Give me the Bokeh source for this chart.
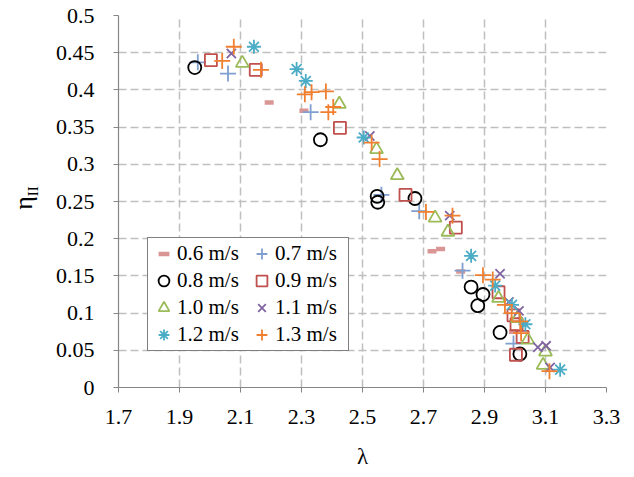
from bokeh.plotting import figure
from bokeh.models import Legend, LegendItem, FixedTicker, Range1d, CustomJSTickFormatter, Div
from bokeh.layouts import row
from bokeh.embed import file_html
from bokeh.resources import INLINE

# ---- data ----
series_names = ["0.6 m/s", "0.7 m/s", "0.8 m/s", "0.9 m/s", "1.0 m/s", "1.1 m/s", "1.2 m/s", "1.3 m/s"]

x06 = [2.194, 2.308, 2.728, 2.756, 2.822, 2.995]
y06 = [0.383, 0.372, 0.183, 0.186, 0.156, 0.075]

x07 = [1.960, 2.059, 2.330, 2.562, 2.686, 2.828, 2.995]
y07 = [0.437, 0.422, 0.370, 0.259, 0.237, 0.157, 0.059]

x08 = [1.950, 2.362, 2.548, 2.550, 2.672, 2.856, 2.895, 2.878, 2.951, 3.016]
y08 = [0.430, 0.333, 0.257, 0.249, 0.254, 0.135, 0.125, 0.110, 0.074, 0.045]

x09 = [2.003, 2.150, 2.426, 2.641, 2.806, 2.946, 2.995, 3.005, 3.025, 3.003]
y09 = [0.440, 0.427, 0.349, 0.259, 0.215, 0.128, 0.097, 0.085, 0.068, 0.044]

x10 = [2.106, 2.424, 2.546, 2.614, 2.738, 2.780, 2.946, 3.008, 3.042, 3.100, 3.092]
y10 = [0.436, 0.381, 0.320, 0.285, 0.228, 0.209, 0.120, 0.093, 0.064, 0.048, 0.030]

x11 = [2.070, 2.524, 2.786, 2.951, 2.980, 3.013, 3.075, 3.102, 3.115]
y11 = [0.449, 0.338, 0.231, 0.153, 0.115, 0.103, 0.054, 0.056, 0.027]

x12 = [2.144, 2.284, 2.314, 2.504, 2.856, 2.935, 2.990, 3.034, 3.148]
y12 = [0.458, 0.428, 0.412, 0.336, 0.177, 0.137, 0.111, 0.085, 0.024]

x13 = [2.040, 2.078, 2.167, 2.311, 2.333, 2.380, 2.388, 2.404, 2.530, 2.556, 2.708,
       2.795, 2.895, 2.927, 2.967, 2.989, 3.017, 3.020, 3.113]
y13 = [0.439, 0.458, 0.427, 0.394, 0.397, 0.398, 0.370, 0.377, 0.329, 0.307, 0.236,
       0.231, 0.151, 0.145, 0.111, 0.100, 0.089, 0.073, 0.022]

x_ticks = [1.7, 1.9, 2.1, 2.3, 2.5, 2.7, 2.9, 3.1, 3.3]
y_ticks = [0, 0.05, 0.1, 0.15, 0.2, 0.25, 0.3, 0.35, 0.4, 0.45, 0.5]

FONT = "Liberation Serif"

p = figure(width=594, height=477, x_range=Range1d(1.7, 3.3), y_range=Range1d(0, 0.5),
           output_backend="svg", toolbar_location=None,
           min_border_left=78, min_border_right=28, min_border_top=15, min_border_bottom=90)
p.outline_line_color = None
p.background_fill_color = "white"
p.border_fill_color = "white"

for ax, ticks in ((p.xaxis, x_ticks), (p.yaxis, y_ticks)):
    ax.ticker = FixedTicker(ticks=ticks)
    ax.formatter = CustomJSTickFormatter(code="var s = tick.toFixed(2); s = s.replace(/0+$/, ''); s = s.replace(/\\.$/, ''); return s;")
    ax.axis_line_color = "#868686"
    ax.axis_line_width = 1.2
    ax.major_tick_line_color = "#868686"
    ax.major_tick_out = 5
    ax.major_tick_in = 0
    ax.minor_tick_line_color = None
    ax.major_label_text_font = FONT
    ax.major_label_text_font_size = "22px"
    ax.major_label_text_color = "black"

p.xaxis.major_label_standoff = 17
p.yaxis.major_label_standoff = 19
p.xaxis.axis_label = "λ"
p.xaxis.axis_label_text_font = FONT
p.xaxis.axis_label_text_font_size = "23px"
p.xaxis.axis_label_text_font_style = "normal"
p.xaxis.axis_label_text_color = "black"
p.xaxis.axis_label_standoff = 17

for g in (p.xgrid, p.ygrid):
    g.grid_line_color = "#BFBFBF"
    g.grid_line_dash = "8 4"
    g.grid_line_width = 1.5

styles = [
    (x06, y06, "dash", "#D99694", 9, 4.5),
    (x07, y07, "cross", "#7F9FD0", 16, 1.8),
    (x08, y08, "circle", "black", 13, 1.8),
    (x09, y09, "square", "#C0504D", 12, 1.8),
    (x10, y10, "triangle", "#9BBB59", 13, 1.8),
    (x11, y11, "x", "#8064A2", 13, 1.8),
    (x12, y12, "asterisk", "#4BACC6", 14, 1.8),
    (x13, y13, "cross", "#F08030", 16, 1.8),
]

items = []
for name, (xs, ys, mk, col, sz, lw) in zip(series_names, styles):
    r = p.scatter(xs, ys, marker=mk, size=sz, line_color=col, fill_color=None, line_width=lw)
    items.append(LegendItem(label=name, renderers=[r]))

legend = Legend(items=items, orientation="horizontal", ncols=2, location=(29, 36))
legend.label_text_font = FONT
legend.label_text_font_size = "21px"
legend.label_text_color = "black"
legend.border_line_color = "black"
legend.border_line_width = 1.3
legend.background_fill_color = "white"
legend.background_fill_alpha = 1.0
legend.glyph_width = 27
legend.glyph_height = 27
legend.label_height = 27
legend.label_width = 71
legend.label_standoff = 0
legend.spacing = 0
legend.padding = 2
legend.margin = 0
p.add_layout(legend, "center")

# y-axis title (eta with subscript II), rotated
ytitle = Div(
    text=('<div style="position:relative;width:40px;height:477px;">'
          '<div style="position:absolute;left:26px;top:198px;'
          'transform:translate(-50%,-50%) rotate(-90deg);white-space:nowrap;'
          "font-family:'Liberation Serif','Times New Roman',serif;font-size:26px;"
          'line-height:1;color:black;">η<sub style="font-size:15px;">II</sub></div></div>'),
    width=40, height=477, margin=(0, 0, 0, 0))

layout = row(ytitle, p, spacing=0)

open("out.html", "w").write(file_html(layout, INLINE))
